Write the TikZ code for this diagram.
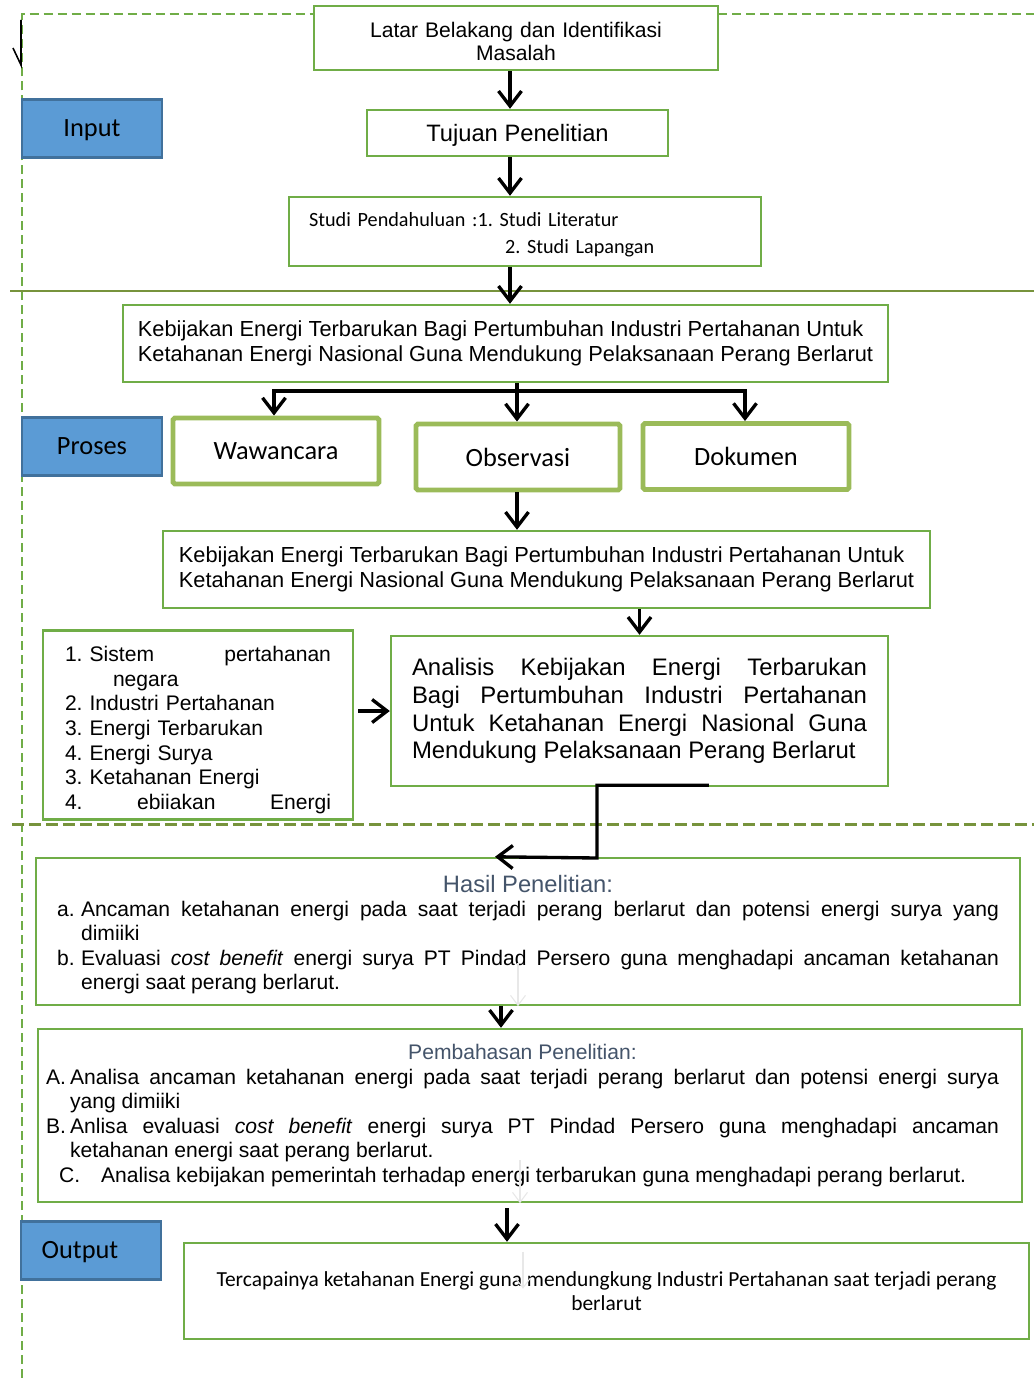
\documentclass[tikz,border=0pt]{standalone}
\usepackage{fontspec}
\setmainfont{Liberation Sans}
\newfontfamily\califont{Carlito}
\usetikzlibrary{arrows.meta,positioning}

\hyphenpenalty=10000
\exhyphenpenalty=10000
\tolerance=9999
\frenchspacing

\definecolor{framegreen}{HTML}{70AD47}
\definecolor{lineolive}{HTML}{77933C}
\definecolor{softgreen}{HTML}{9BBB59}
\definecolor{labelblue}{HTML}{5B9BD5}
\definecolor{labeledge}{HTML}{41719C}
\definecolor{titlegray}{HTML}{44546A}

\newcommand{\itemlabel}[1]{\makebox[0.48cm][l]{#1}}

\tikzset{
  gbox/.style={draw=framegreen, line width=1.4pt, fill=white},
  tbox/.style={draw=softgreen, line width=2.8pt, rounded corners=1pt, fill=white,
    minimum width=4.12cm, minimum height=1.32cm, font=\califont\fontsize{15}{18}\selectfont},
  lbox/.style={draw=labeledge, line width=1.2pt, fill=labelblue, text height=13pt, text depth=3.5pt,
    minimum width=2.8cm, minimum height=1.16cm, font=\califont\fontsize{15}{18}\selectfont},
  arr/.style={line width=1.9pt, -{Straight Barb[length=0.3cm,width=0.46cm]}},
  faint/.style={draw=black!9, line width=0.6pt, -{Straight Barb[length=0.2cm,width=0.3cm]}},
  bodytext/.style={font=\fontsize{12}{13.8}\selectfont}
}

\begin{document}
\begin{tikzpicture}[x=0.02cm,y=-0.02cm]
\useasboundingbox (0,0) rectangle (1034,1378);

% section lines
\draw[framegreen, line width=1.7pt, dash pattern=on 0.18cm off 0.1cm] (22,1378) -- (22,14) -- (314,14);
\draw[framegreen, line width=1.7pt, dash pattern=on 0.18cm off 0.1cm] (718,14) -- (1034,14);
\draw[lineolive, line width=1.7pt] (10,291) -- (1034,291);
\draw[lineolive, line width=1.7pt, dash pattern=on 0.24cm off 0.1cm] (12,824) -- (1034,824);
\coordinate (tick) at (21,20);
\draw[line width=0.9pt] (tick) -- (21,65) -- (13,48);

% labels
\node[lbox] (input) at (92,128.5) {Input};
\node[lbox] (proses) at (92,446.5) {Proses};
\node[lbox] (output) at (91,1250.5) {\hspace*{-0.44cm}Output};

% input
\node[gbox, minimum width=8.08cm, minimum height=1.28cm, text width=7.6cm, align=center,
  text height=12.6pt, font=\fontsize{12}{13.5}\selectfont] (latar) at (516,38)
  {Latar Belakang dan Identifikasi\\Masalah};
\node[gbox, minimum width=6.02cm, minimum height=0.92cm, text height=13pt, text depth=3pt,
  font=\fontsize{13.5}{16}\selectfont] (tujuan) at (517.5,133) {Tujuan Penelitian};
\node[gbox, minimum width=9.44cm, minimum height=1.38cm, text width=8.64cm, align=left,
  text height=11.4pt, font=\califont\fontsize{11.5}{15.4}\selectfont] (studi) at (525,231.5)
  {Studi Pendahuluan :1. Studi Literatur\\\hspace*{3.92cm}2. Studi Lapangan};

% proses
\node[gbox, minimum width=15.3cm, minimum height=1.54cm, align=left,
  font=\fontsize{12.4}{14.2}\selectfont] (keb1) at (505.5,343.5)
  {Kebijakan Energi Terbarukan Bagi Pertumbuhan Industri Pertahanan Untuk\\Ketahanan Energi Nasional Guna Mendukung Pelaksanaan Perang Berlarut};
\node[tbox] (waw) at (276,451) {Wawancara};
\node[tbox, minimum width=4.08cm] (obs) at (518,457) {Observasi};
\node[tbox] (dok) at (746,456.5) {Dokumen};
\node[gbox, minimum width=15.34cm, minimum height=1.54cm, align=left,
  font=\fontsize{12.4}{14.2}\selectfont] (keb2) at (546.5,569.5)
  {Kebijakan Energi Terbarukan Bagi Pertumbuhan Industri Pertahanan Untuk\\Ketahanan Energi Nasional Guna Mendukung Pelaksanaan Perang Berlarut};
\node[gbox, minimum width=6.2cm, minimum height=3.76cm, text width=5.32cm, align=left,
  text height=14.4pt, font=\fontsize{12}{14}\selectfont] (konsep) at (198,725)
  {1. Sistem\hfill pertahanan\\\hspace*{0.96cm}negara\\2. Industri Pertahanan\\3. Energi Terbarukan\\4. Energi Surya\\3. Ketahanan Energi\\4.\hfill ebiiakan\hfill Energi};
\node[gbox, minimum width=9.94cm, minimum height=3cm, text width=9.1cm, align=justify,
  font=\fontsize{13.6}{15.8}\selectfont] (anal) at (639.5,711)
  {Analisis Kebijakan Energi Terbarukan\linebreak Bagi Pertumbuhan Industri Pertahanan\linebreak Untuk Ketahanan Energi Nasional Guna\linebreak Mendukung Pelaksanaan Perang Berlarut};

% output
\node[gbox, minimum width=19.68cm, minimum height=2.94cm, text width=18.84cm, align=justify,
  text height=13.2pt, bodytext] (hasil) at (528,931.5)
  {{\centering\color{titlegray}\fontsize{13.5}{15.5}\selectfont Hasil Penelitian:\par}
   \hangindent=0.48cm\hangafter=1 \itemlabel{a.}Ancaman ketahanan energi pada saat terjadi perang berlarut dan potensi energi surya yang\linebreak dimiiki\par
   \hangindent=0.48cm\hangafter=1 \itemlabel{b.}Evaluasi \textit{cost benefit} energi surya PT Pindad Persero guna menghadapi ancaman ketahanan\linebreak energi saat perang berlarut.\par};
\node[gbox, minimum width=19.68cm, minimum height=3.46cm, bodytext] (bahas) at (530,1115.5)
  {\hspace*{-0.3cm}\parbox{19.06cm}{\fontsize{12}{13.9}\selectfont
   {\centering\color{titlegray}\fontsize{12}{14}\selectfont Pembahasan Penelitian:\par}
   \hangindent=0.48cm\hangafter=1 \itemlabel{A.}Analisa ancaman ketahanan energi pada saat terjadi perang berlarut dan potensi energi surya\linebreak yang dimiiki\par
   \hangindent=0.48cm\hangafter=1 \itemlabel{B.}Anlisa evaluasi \textit{cost benefit} energi surya PT Pindad Persero guna menghadapi ancaman\linebreak ketahanan energi saat perang berlarut.\par
   \hspace*{0.26cm}C.\hspace{0.42cm}Analisa kebijakan pemerintah terhadap energi terbarukan guna menghadapi perang berlarut.\par}};
\node[gbox, minimum width=16.9cm, minimum height=1.92cm, align=center,
  font=\califont\fontsize{12.2}{13.8}\selectfont] (hasilakhir) at (606.5,1291)
  {Tercapainya ketahanan Energi guna mendungkung Industri Pertahanan saat terjadi perang\\berlarut};

% connectors
\coordinate (col) at (510,0);
\coordinate (fork) at (517,391);
\coordinate (turn) at (597,858);
\coordinate (col2) at (501,0);
\coordinate (col3) at (507,0);
\draw[arr] (latar.south -| col) -- (tujuan.north -| col);
\draw[arr] (tujuan.south -| col) -- (studi.north -| col);
\draw[arr] (studi.south -| col) -- (keb1.north -| col);
\draw[line width=1.9pt] (keb1.south -| fork) -- (fork);
\draw[arr] (fork) -| ([xshift=-0.04cm]waw.north);
\draw[arr] (fork) -- (obs.north -| fork);
\draw[arr] (fork) -| ([xshift=-0.02cm]dok.north);
\draw[arr] (obs.south -| fork) -- (keb2.north -| fork);
\draw[arr] (keb2.south -| anal.north) -- (anal.north);
\draw[arr] ([xshift=0.08cm]konsep.east |- anal.west) -- (anal.west);
\draw[arr] ([xshift=1.39cm,yshift=0.04cm]anal.south) -| (turn) -- (hasil.north -| 495,0);
\draw[arr] (hasil.south -| col2) -- (bahas.north -| col2);
\draw[arr] ([yshift=-0.1cm]bahas.south -| col3) -- (hasilakhir.north -| col3);
\draw[faint] (518,963) -- (hasil.south -| 518,0);
\draw[faint] (520,1160) -- (bahas.south -| 520,0);
\draw[faint] (hasilakhir.north -| 523,0) ++(0,10) -- ++(0,37);
\end{tikzpicture}
\end{document}
